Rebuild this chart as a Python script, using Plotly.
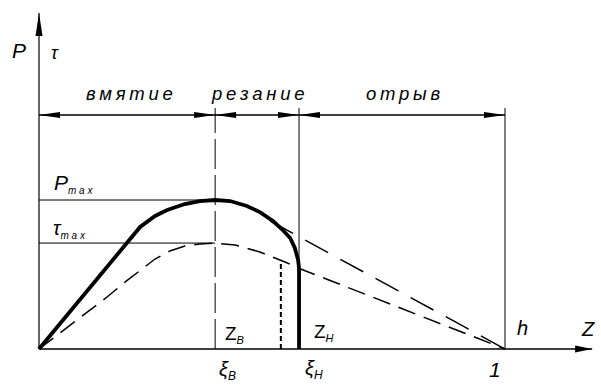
import plotly.graph_objects as go

# ---------------- data ----------------
# loading curve P(Z)  (normalised: Z in units of h, P in units of P_max)
z_P = [0.0, 0.088, 0.159, 0.185, 0.217, 0.249, 0.275, 0.313, 0.345, 0.378,
       0.410, 0.446, 0.474, 0.502, 0.521, 0.539, 0.549, 0.556, 0.558, 0.558]
P = [0.0, 0.329, 0.597, 0.698, 0.819, 0.893, 0.933, 0.973, 0.993, 1.0,
     0.993, 0.960, 0.919, 0.859, 0.805, 0.745, 0.678, 0.597, 0.544, 0.0]

# shear stress curve tau(Z), continued to Z = 1 as a straight dashed line
z_tau = [0.0, 0.034, 0.071, 0.109, 0.146, 0.185, 0.217, 0.249, 0.281, 0.313,
         0.345, 0.378, 0.421, 0.474, 0.528, 0.556, 1.0]
tau = [0.0, 0.081, 0.168, 0.262, 0.349, 0.450, 0.530, 0.604, 0.658, 0.691,
       0.705, 0.711, 0.698, 0.651, 0.584, 0.544, 0.0]

# dashed unloading line of P
z_unload = [0.496, 1.0]
P_unload = [0.859, 0.0]

xi_b = 0.378      # ξв
xi_h = 0.558      # ξн
z_end = 1.0       # h
z_dot = 0.519
tau_dot = 0.592
P_max = 1.0
tau_max = 0.711

zone_labels = ["вмятие", "резание", "отрыв"]
dim_level = 1.57
ext_top = 1.617
y_top = 2.255
x_right = 1.187

# ---------------- geometry of the canvas ----------------
W, H = 601, 385
X0, X1 = -0.0837, 1.2060
Y0, Y1 = -0.2416, 2.3423
sx = W / (X1 - X0)
sy = H / (Y1 - Y0)


def px_x(p):
    return X0 + p / sx


def px_y(p):
    return Y1 - p / sy


def head(xt, yt, ux, uy, L, hw):
    """filled arrow head, tip at (xt, yt); (ux, uy) screen direction."""
    bx, by = -ux * L, -uy * L
    px_, py_ = -uy * hw, ux * hw
    pts = [(0, 0), (bx + px_, by + py_), (bx - px_, by - py_)]
    s = ""
    for i, (a, b) in enumerate(pts):
        s += ("M" if i == 0 else "L") + f"{xt + a / sx},{yt - b / sy} "
    return dict(type="path", path=s + "Z", xref="x", yref="y",
                fillcolor="black", line=dict(width=0), layer="above")


def seg(x0, y0, x1, y1, w=1, dash="solid"):
    return dict(type="line", x0=x0, y0=y0, x1=x1, y1=y1, xref="x", yref="y",
                line=dict(color="black", width=w, dash=dash))


fig = go.Figure()

shapes = []
# axes
shapes.append(seg(0, 0, 0, y_top, 1.2))
shapes.append(seg(0, 0, x_right, 0, 1.5))
shapes.append(head(0, y_top, 0, -1, 23, 3.5))
shapes.append(head(x_right, 0, 1, 0, 17, 3.5))
# extension lines
shapes.append(seg(xi_b, 0, xi_b, ext_top, 1, "30px,6px"))
shapes.append(seg(xi_h, 0, xi_h, ext_top, 1))
shapes.append(seg(z_end, 0, z_end, ext_top, 1))
# dimension line and arrows
shapes.append(seg(0, dim_level, z_end, dim_level, 1.5))
for a, b in [(0, xi_b), (xi_b, xi_h), (xi_h, z_end)]:
    shapes.append(head(a, dim_level, -1, 0, 21, 3))
    shapes.append(head(b, dim_level, 1, 0, 21, 3))
# P_max and tau_max levels
shapes.append(seg(0, P_max, xi_b, P_max, 1))
shapes.append(seg(0, tau_max, xi_b, tau_max, 1))

fig.add_trace(go.Scatter(x=z_tau, y=tau, mode="lines",
                         line=dict(color="black", width=1.5, dash="18px,9px")))
fig.add_trace(go.Scatter(x=z_unload, y=P_unload, mode="lines",
                         line=dict(color="black", width=1.5, dash="26px,14px")))
fig.add_trace(go.Scatter(x=[z_dot, z_dot], y=[0, tau_dot], mode="lines",
                         line=dict(color="black", width=2, dash="5px,3px")))
fig.add_trace(go.Scatter(x=z_P, y=P, mode="lines",
                         line=dict(color="black", width=3.8)))

F = "Liberation Sans"
ann = []
TS = "\u2009"


def txt(t, xp, yp, size, xa="center"):
    ann.append(dict(text=t, x=px_x(xp), y=px_y(yp), xref="x", yref="y",
                    showarrow=False, xanchor=xa, yanchor="middle",
                    font=dict(family=F, size=size, color="black")))


def spaced(word):
    return TS.join(list(word))


def small(t, s):
    return f"<sub><span style='font-size:{s}px'><i>{t}</i></span></sub>"


txt("<i>P</i>", 19, 50, 21)
txt("<i>τ</i>", 55, 53, 18)
txt("<i>" + spaced(zone_labels[0]) + "</i>", 129, 93, 18.5)
txt("<i>" + spaced(zone_labels[1]) + "</i>", 257, 93, 18.5)
txt("<i>" + spaced(zone_labels[2]) + "</i>", 403, 93, 18.5)
txt("<i>P</i>" + small("m a x", 10), 52, 183, 21, "left")
txt("<i>τ</i>" + small("m a x", 10), 51, 229, 20, "left")
txt("Z" + small("В", 11), 223, 334, 19, "left")
txt("Z" + small("Н", 11), 312, 332, 19, "left")
txt("<i>h</i>", 522, 328, 20)
txt("<i>Z</i>", 588, 329, 20)
txt("<i>ξ</i>" + small("В", 12), 217, 370, 20, "left")
txt("<i>ξ</i>" + small("Н", 12), 303, 369, 20, "left")
txt("<i>1</i>", 495, 369, 21)

fig.update_layout(
    width=W, height=H, margin=dict(l=0, r=0, t=0, b=0),
    paper_bgcolor="white", plot_bgcolor="white", showlegend=False,
    shapes=shapes, annotations=ann,
    xaxis=dict(range=[X0, X1], visible=False, fixedrange=True),
    yaxis=dict(range=[Y0, Y1], visible=False, fixedrange=True),
)
fig.write_html("out.html", config={"displayModeBar": False},
               post_script="document.body.style.margin='0';"
                           "document.body.style.overflow='hidden';")
